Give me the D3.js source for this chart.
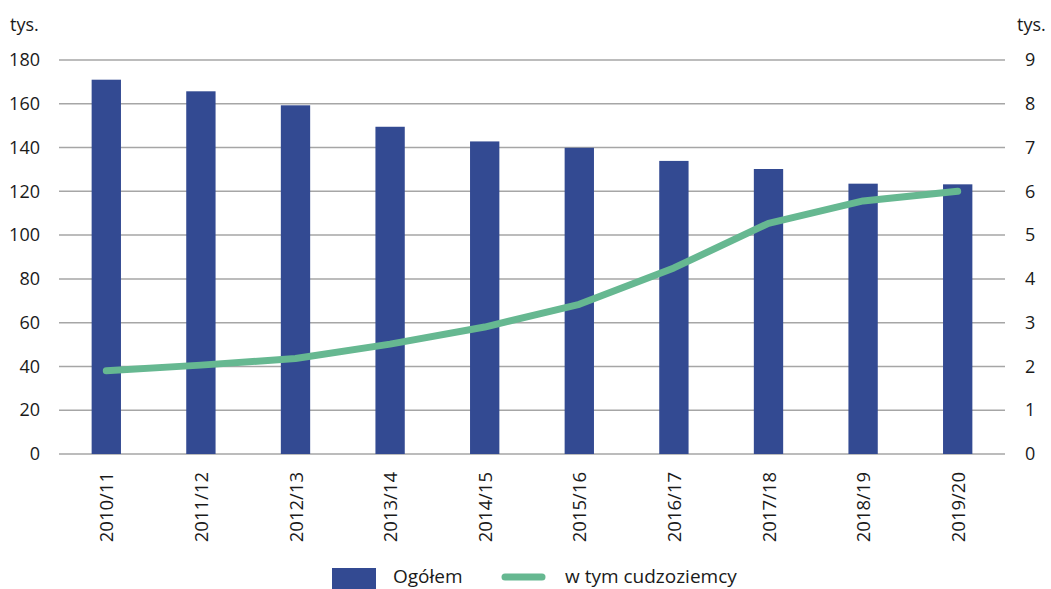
<!DOCTYPE html>
<html><head><meta charset="utf-8">
<script src="https://cdn.jsdelivr.net/npm/d3@7"></script>
<style>body{margin:0;background:#fff}svg{display:block}text{font-family:"Open Sans",sans-serif;fill:#1a1a1a}</style>
</head><body><svg id="c" width="1051" height="589"></svg>
<script>
const categories=["2010/11","2011/12","2012/13","2013/14","2014/15","2015/16","2016/17","2017/18","2018/19","2019/20"];
const totalValues=[171,165.7,159.3,149.5,142.8,139.9,133.9,130.2,123.5,123.2];
const foreignValues=[1.9,2.03,2.18,2.51,2.9,3.42,4.25,5.27,5.78,6.0];
const leftTicks=[0,20,40,60,80,100,120,140,160,180];
const rightTicks=[0,1,2,3,4,5,6,7,8,9];
const seriesNames=["Ogółem","w tym cudzoziemcy"];
const unitLabel="tys.";

const svg=d3.select("#c");
const L=59,R=1005,T=60,B=454;
const x=d3.scaleBand().domain(categories).range([L,R]).paddingInner(0.69).paddingOuter(0.345);
const xc=d3.scaleBand().domain(categories).range([L,R]);
const yL=d3.scaleLinear().domain([0,180]).range([B,T]);
const yR=d3.scaleLinear().domain([0,9]).range([B,T]);

svg.append("g").selectAll("line").data(leftTicks).join("line")
 .attr("x1",L).attr("x2",R).attr("y1",d=>yL(d)).attr("y2",d=>yL(d))
 .attr("stroke","#a6a6a6").attr("stroke-width",1.5);

const la=svg.append("g").attr("transform",`translate(${L-19},0)`)
 .call(d3.axisLeft(yL).tickValues(leftTicks).tickSize(0).tickPadding(0));
la.select(".domain").remove();
la.selectAll("text").attr("font-size",18).attr("fill","#1a1a1a").style("font-family","'Open Sans',sans-serif");

const ra=svg.append("g").attr("transform",`translate(${R+20},0)`)
 .call(d3.axisRight(yR).tickValues(rightTicks).tickSize(0).tickPadding(0));
ra.select(".domain").remove();
ra.selectAll("text").attr("font-size",18).attr("fill","#1a1a1a").style("font-family","'Open Sans',sans-serif");

svg.append("text").attr("x",10).attr("y",31).attr("font-size",18).text(unitLabel);
svg.append("text").attr("x",1017).attr("y",31).attr("font-size",18).text(unitLabel);

svg.append("g").selectAll("rect").data(totalValues).join("rect")
 .attr("x",(d,i)=>x(categories[i])).attr("width",x.bandwidth())
 .attr("y",d=>yL(d)).attr("height",d=>B-yL(d))
 .attr("fill","#334a92");

const line=d3.line().x((d,i)=>xc(categories[i])+xc.bandwidth()/2).y(d=>yR(d));
svg.append("path").datum(foreignValues).attr("d",line)
 .attr("fill","none").attr("stroke","#66b891").attr("stroke-width",7).attr("stroke-linecap","round").attr("stroke-linejoin","round");

svg.append("g").selectAll("text").data(categories).join("text")
 .attr("transform",d=>`translate(${xc(d)+xc.bandwidth()/2+7},472) rotate(-90)`)
 .attr("text-anchor","end").attr("font-size",18.5).text(d=>d);

svg.append("rect").attr("x",332).attr("y",568).attr("width",44).attr("height",21).attr("fill","#334a92");
svg.append("text").attr("x",393).attr("y",583).attr("font-size",19).text(seriesNames[0]);
svg.append("line").attr("x1",505).attr("x2",542).attr("y1",577).attr("y2",577).attr("stroke","#66b891").attr("stroke-width",7).attr("stroke-linecap","round");
svg.append("text").attr("x",565).attr("y",583).attr("font-size",19).text(seriesNames[1]);
</script></body></html>
